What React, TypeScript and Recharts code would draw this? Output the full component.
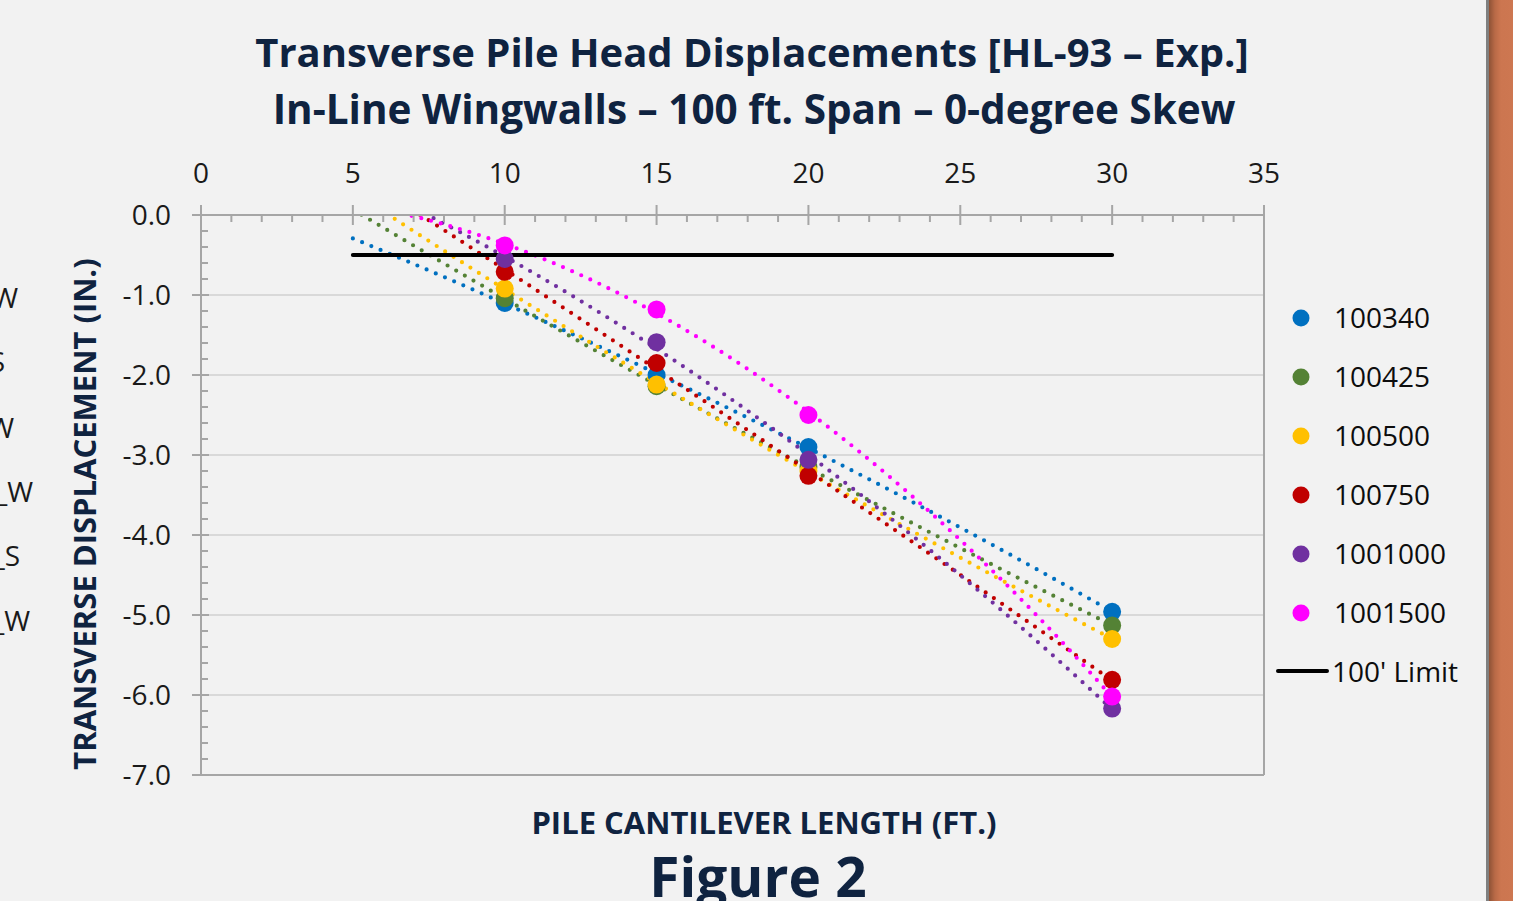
import {
  ComposedChart,
  Line,
  Scatter,
  XAxis,
  YAxis,
  ReferenceLine,
  Legend,
} from "recharts"

// pile cantilever length (ft.)
const lengths = [10, 15, 20, 30]

// transverse displacement (in.) per model
const d100340 = [-1.1, -2.0, -2.9, -4.96]
const d100425 = [-1.04, -2.14, -3.15, -5.13]
const d100500 = [-0.92, -2.12, -3.2, -5.3]
const d100750 = [-0.71, -1.85, -3.26, -5.81]
const d1001000 = [-0.55, -1.59, -3.06, -6.17]
const d1001500 = [-0.38, -1.18, -2.5, -6.02]

const seriesNames = ["100340", "100425", "100500", "100750", "1001000", "1001500"]
const seriesColors = ["#0070C0", "#548235", "#FFC000", "#C00000", "#7030A0", "#FF00FF"]
const seriesValues = [d100340, d100425, d100500, d100750, d1001000, d1001500]

// 100' limit
const limitName = "100' Limit"
const limitX = [5, 30]
const limitY = [-0.5, -0.5]

// trendline range (backward forecast to 5 ft.)
const trendFrom = 5
const trendTo = 30

const xTicks = Array.from({ length: 36 }, (_, i) => i)
const yTicks = Array.from({ length: 36 }, (_, i) => -i / 5)

const NAVY = "#0F2340"
const AXIS = "#A6A6A6"
const GRID = "#D9D9D9"
const FONT = "'Open Sans', sans-serif"

// 2nd order polynomial least squares, like the excel trendline
function quadFit(xs: number[], ys: number[]) {
  let s0 = 0, s1 = 0, s2 = 0, s3 = 0, s4 = 0, t0 = 0, t1 = 0, t2 = 0
  xs.forEach((x, i) => {
    const y = ys[i]
    s0 += 1; s1 += x; s2 += x * x; s3 += x * x * x; s4 += x * x * x * x
    t0 += y; t1 += x * y; t2 += x * x * y
  })
  const det = (m: number[][]) =>
    m[0][0] * (m[1][1] * m[2][2] - m[1][2] * m[2][1]) -
    m[0][1] * (m[1][0] * m[2][2] - m[1][2] * m[2][0]) +
    m[0][2] * (m[1][0] * m[2][1] - m[1][1] * m[2][0])
  const A = [[s0, s1, s2], [s1, s2, s3], [s2, s3, s4]]
  const b = [t0, t1, t2]
  const D = det(A)
  const col = (k: number) => A.map((row, r) => row.map((v, c) => (c === k ? b[r] : v)))
  const c0 = det(col(0)) / D
  const c1 = det(col(1)) / D
  const c2 = det(col(2)) / D
  return (x: number) => c0 + c1 * x + c2 * x * x
}

function trendData(ys: number[]) {
  const f = quadFit(lengths, ys)
  const pts = []
  for (let i = 0; i <= (trendTo - trendFrom) * 4; i++) {
    const x = trendFrom + i / 4
    pts.push({ x, y: f(x) })
  }
  return pts
}

const XTick = (props: any) => {
  const { x, y, payload } = props
  const v = payload.value
  const major = v % 5 === 0
  return (
    <g>
      <line x1={x} x2={x} y1={major ? y - 10 : y} y2={major ? y + 10 : y + 7} stroke={AXIS} strokeWidth={2} />
      {major && (
        <text x={x} y={y - 32} textAnchor="middle" fontFamily={FONT} fontSize={28} fill="#1A1A1A">
          {v}
        </text>
      )}
    </g>
  )
}

const YTick = (props: any) => {
  const { x, y, payload } = props
  const v = payload.value
  const major = Math.abs(v - Math.round(v)) < 1e-6
  return (
    <g>
      <line x1={major ? x - 9 : x} x2={major ? x + 8 : x + 7} y1={y} y2={y} stroke={AXIS} strokeWidth={2} />
      {major && (
        <text x={x - 30} y={y + 10} textAnchor="end" fontFamily={FONT} fontSize={28} fill="#1A1A1A">
          {v.toFixed(1)}
        </text>
      )}
    </g>
  )
}

const LegendBox = () => (
  <svg width={230} height={420}>
    {seriesNames.map((name, i) => (
      <g key={name}>
        <circle cx={31} cy={28 + i * 59} r={8.5} fill={seriesColors[i]} />
        <text x={64} y={38 + i * 59} fontFamily={FONT} fontSize={28} fill="#0D0D0D">
          {name}
        </text>
      </g>
    ))}
    <line x1={8} x2={57} y1={381} y2={381} stroke="#000" strokeWidth={4} strokeLinecap="round" />
    <text x={62} y={392} fontFamily={FONT} fontSize={28} fill="#0D0D0D">
      {limitName}
    </text>
  </svg>
)

const cutLabels = ["W", "S", "W", "_W", "_S", "_W"]
const cutRight = [18, 5, 14, 33, 20, 30]
const cutY = [298, 362, 428, 492, 556, 621]

export default function App() {
  const limitData = limitX.map((x, i) => ({ x, y: limitY[i] }))
  return (
    <div style={{ position: "absolute", left: 0, top: 0, width: 1513, height: 901, background: "#F2F2F2", overflow: "hidden" }}>
      <ComposedChart
        width={1513}
        height={901}
        margin={{ top: 155, right: 249, bottom: 126, left: 121 }}
      >
        <XAxis
          dataKey="x"
          type="number"
          orientation="top"
          domain={[0, 35]}
          ticks={xTicks}
          interval={0}
          height={60}
          tickSize={0}
          tickMargin={0}
          tickLine={false}
          axisLine={{ stroke: AXIS, strokeWidth: 2 }}
          tick={<XTick />}
          allowDataOverflow
        />
        <YAxis
          dataKey="y"
          type="number"
          domain={[-7, 0]}
          ticks={yTicks}
          interval={0}
          width={80}
          tickSize={0}
          tickMargin={0}
          tickLine={false}
          axisLine={{ stroke: AXIS, strokeWidth: 2 }}
          tick={<YTick />}
          allowDataOverflow
        />
        {[-1, -2, -3, -4, -5, -6].map((v) => (
          <ReferenceLine key={v} y={v} stroke={GRID} strokeWidth={2} />
        ))}
        <ReferenceLine y={-7} stroke={AXIS} strokeWidth={2} />
        <ReferenceLine x={35} stroke={AXIS} strokeWidth={2} />
        <Legend
          layout="vertical"
          align="center"
          verticalAlign="middle"
          wrapperStyle={{ position: "absolute", left: 1270, top: 290, width: 230 }}
          content={() => <LegendBox />}
        />
        {seriesValues.map((ys, i) => (
          <Scatter
            key={"s" + seriesNames[i]}
            name={seriesNames[i]}
            data={lengths.map((x, j) => ({ x, y: ys[j] }))}
            fill={seriesColors[i]}
            isAnimationActive={false}
            shape={(p: any) => <circle cx={p.cx} cy={p.cy} r={9} fill={seriesColors[i]} />}
          />
        ))}
        {seriesValues.map((ys, i) => (
          <Line
            key={"t" + seriesNames[i]}
            data={trendData(ys)}
            dataKey="y"
            type="linear"
            stroke={seriesColors[i]}
            strokeWidth={4.2}
            strokeDasharray="0 10"
            strokeLinecap="round"
            dot={false}
            activeDot={false}
            legendType="none"
            isAnimationActive={false}
          />
        ))}
        <Line
          data={limitData}
          dataKey="y"
          name={limitName}
          type="linear"
          stroke="#000"
          strokeWidth={4}
          strokeLinecap="round"
          dot={false}
          activeDot={false}
          isAnimationActive={false}
        />
      </ComposedChart>
      <svg width={1513} height={901} style={{ position: "absolute", left: 0, top: 0, pointerEvents: "none" }}>
        <text x={752} y={67} textAnchor="middle" fontFamily={FONT} fontWeight={700} fontSize={40} fill={NAVY}>
          Transverse Pile Head Displacements [HL-93 – Exp.]
        </text>
        <text x={754} y={124} textAnchor="middle" fontFamily={FONT} fontWeight={700} fontSize={40.5} fill={NAVY}>
          In-Line Wingwalls – 100 ft. Span – 0-degree Skew
        </text>
        <text x={764} y={834} textAnchor="middle" fontFamily={FONT} fontWeight={700} fontSize={31} fill={NAVY}>
          PILE CANTILEVER LENGTH (FT.)
        </text>
        <text
          transform="translate(96,514) rotate(-90)"
          textAnchor="middle"
          fontFamily={FONT}
          fontWeight={700}
          fontSize={31}
          fill={NAVY}
        >
          TRANSVERSE DISPLACEMENT (IN.)
        </text>
        <text x={758} y={897} textAnchor="middle" fontFamily={FONT} fontWeight={700} fontSize={55} fill={NAVY}>
          Figure 2
        </text>
        {cutLabels.map((t, i) => (
          <text key={i} x={cutRight[i]} y={cutY[i] + 10} textAnchor="end" fontFamily={FONT} fontSize={28} fill="#1A1A1A">
            {t}
          </text>
        ))}
      </svg>
      <div style={{ position: "absolute", left: 1486, top: 0, width: 3, height: 901, background: "#7F7F7F" }} />
      <div
        style={{
          position: "absolute",
          left: 1489,
          top: 0,
          width: 24,
          height: 901,
          background: "linear-gradient(to right, #8E5236 0%, #B96A47 25%, #CC7650 50%, #CD7751 100%)",
        }}
      />
    </div>
  )
}
